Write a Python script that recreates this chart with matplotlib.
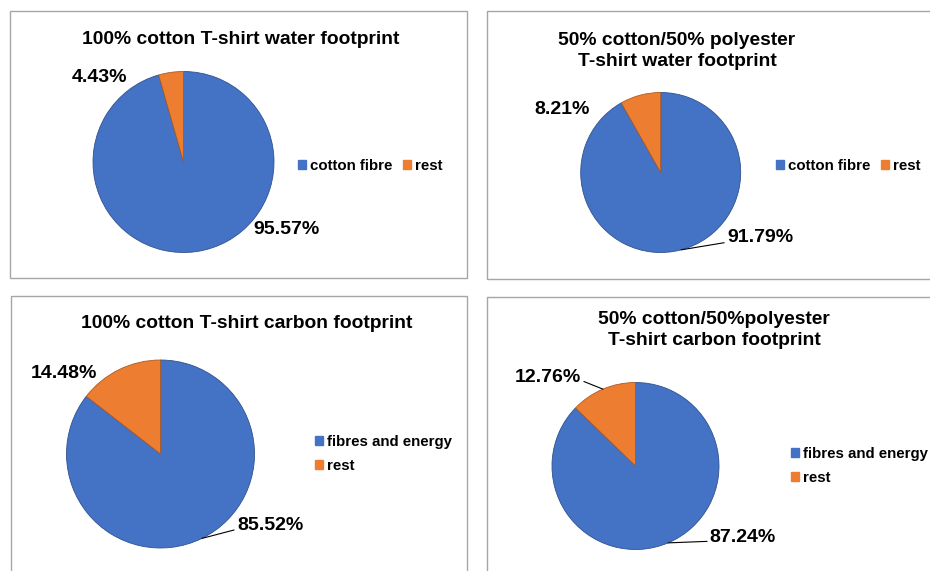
import matplotlib

matplotlib.use("Agg")
import matplotlib.pyplot as plt
from matplotlib.patches import Patch, Rectangle
from matplotlib.transforms import IdentityTransform
import numpy as np

plt.rcParams["font.family"] = ["Liberation Sans", "DejaVu Sans"]
plt.rcParams["font.weight"] = "bold"

W, H = 930, 571

# shares in percent
water_cotton = [95.57, 4.43]
water_blend = [91.79, 8.21]
carbon_cotton = [85.52, 14.48]
carbon_blend = [87.24, 12.76]

water_labels = ["cotton fibre", "rest"]
carbon_labels = ["fibres and energy", "rest"]

titles = [
    "100% cotton T-shirt water footprint",
    "50% cotton/50% polyester\nT-shirt water footprint",
    "100% cotton T-shirt carbon footprint",
    "50% cotton/50%polyester\nT-shirt carbon footprint",
]

COLORS = ["#4472C4", "#ED7D31"]
EDGES = ["#2F528F", "#AE5A21"]
BORDER = "#A6A6A6"

fig = plt.figure(figsize=(W / 100, H / 100), dpi=100)
fig.patch.set_facecolor("white")


def fy(y):
    return H - y


# panel frames (x0, y0, x1, y1) in image pixels; right/bottom ones run off the page
frames = [(10, 11, 467, 278), (487, 11, 940, 279), (11, 296, 467, 590), (487, 297, 940, 590)]
for x0, y0, x1, y1 in frames:
    fig.patches.append(Rectangle((x0 / W, fy(y1) / H), (x1 - x0) / W, (y1 - y0) / H,
                                 transform=fig.transFigure, fill=False,
                                 edgecolor=BORDER, linewidth=1.0))

panels = [
    dict(vals=water_cotton, names=water_labels, title=titles[0], c=(183.5, 162), r=90.5,
         tpos=(241, 40), main=(287, 230), rest=(99, 78), lead_main=False, lead_rest=False,
         leg=(298, 166), ncol=2),
    dict(vals=water_blend, names=water_labels, title=titles[1], c=(660.7, 172.5), r=80,
         tpos=(677, 51), main=(760, 238), rest=(562, 109), lead_main=True, lead_rest=False,
         leg=(776, 166), ncol=2),
    dict(vals=carbon_cotton, names=carbon_labels, title=titles[2], c=(160.5, 454), r=94,
         tpos=(247, 323), main=(270, 525), rest=(64, 374), lead_main=True, lead_rest=False,
         leg=(315, 454), ncol=1),
    dict(vals=carbon_blend, names=carbon_labels, title=titles[3], c=(635.5, 466), r=83.5,
         tpos=(714, 330), main=(743, 537), rest=(548, 377), lead_main=True, lead_rest=True,
         leg=(791, 466), ncol=1),
]

for p in panels:
    cx, cy = p["c"]
    r = p["r"]
    ax = fig.add_axes([(cx - r) / W, fy(cy + r) / H, 2 * r / W, 2 * r / H])
    wedges, _ = ax.pie(p["vals"], colors=COLORS, startangle=90, counterclock=False,
                       wedgeprops=dict(linewidth=0.6))
    for w, ec in zip(wedges, EDGES):
        w.set_edgecolor(ec)
    ax.set_xlim(-1, 1)
    ax.set_ylim(-1, 1)
    ax.set_aspect("equal")
    ax.axis("off")

    fig.text(p["tpos"][0] / W, fy(p["tpos"][1]) / H, p["title"], ha="center", va="center",
             fontsize=13.9, fontweight="bold", linespacing=1.35)

    # data labels, leader lines point to each wedge's mid-angle
    total = sum(p["vals"])
    start = 0.0
    for i, v in enumerate(p["vals"]):
        mid = np.radians(start + 180.0 * v / total)
        start += 360.0 * v / total
        edge = (np.sin(mid), np.cos(mid))
        pos = p["main"] if i == 0 else p["rest"]
        lead = p["lead_main"] if i == 0 else p["lead_rest"]
        arrow = None
        if lead:
            arrow = dict(arrowstyle="-", color="black", lw=0.8, shrinkA=0, shrinkB=0,
                         relpos=(0.0, 0.25) if i == 0 else (1.0, 0.3))
        ax.annotate(f"{v:.2f}%", xy=edge, xycoords="data",
                    xytext=(pos[0], fy(pos[1])), textcoords="figure pixels",
                    ha="center", va="center", fontsize=14, fontweight="bold",
                    arrowprops=arrow, annotation_clip=False)

    handles = [Patch(facecolor=c, edgecolor=c) for c in COLORS]
    ax.legend(handles, p["names"], loc="center left",
              bbox_to_anchor=(p["leg"][0], fy(p["leg"][1])), bbox_transform=IdentityTransform(),
              ncol=p["ncol"], frameon=False, borderpad=0, borderaxespad=0,
              handlelength=0.55, handleheight=0.55, handletextpad=0.25,
              columnspacing=0.7, labelspacing=0.65,
              prop=dict(size=10.8, weight="bold"))

fig.savefig("out.png", dpi=100, facecolor="white")
